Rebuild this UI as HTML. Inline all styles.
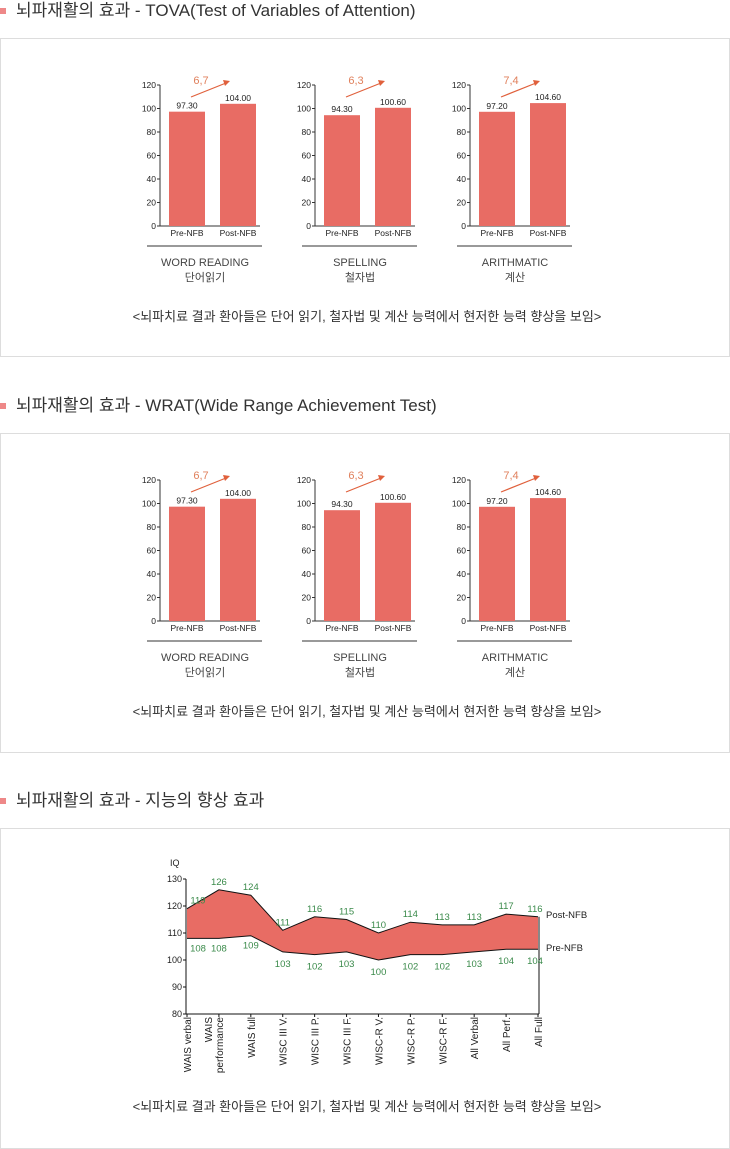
<!DOCTYPE html>
<html><head><meta charset="utf-8">
<style>
body{margin:0;width:730px;height:1149px;background:#fff;font-family:"Liberation Sans","Noto Sans CJK KR",sans-serif;position:relative;overflow:hidden}
.h{position:absolute;left:16px;font-size:17px;color:#333;line-height:20px}
.b{position:absolute;left:0;width:6px;height:6px;background:#e88}
.box{position:absolute;left:0;width:728px;border:1px solid #ddd}
svg{position:absolute;left:0;top:0}
</style></head><body>
<div class="b" style="top:8px"></div>
<div class="h" style="top:1px">뇌파재활의 효과 - TOVA(Test of Variables of Attention)</div>
<div class="box" style="top:38px;height:317px"></div>
<div class="b" style="top:403px"></div>
<div class="h" style="top:396px">뇌파재활의 효과 - WRAT(Wide Range Achievement Test)</div>
<div class="box" style="top:433px;height:318px"></div>
<div class="b" style="top:798px"></div>
<div class="h" style="top:791px">뇌파재활의 효과 - 지능의 향상 효과</div>
<div class="box" style="top:828px;height:319px"></div>
<svg id="s" width="730" height="1149"></svg>
<script>
const barGroups=["WORD READING","SPELLING","ARITHMATIC"];
const barGroupsKo=["단어읽기","철자법","계산"];
const preValues=[97.3,94.3,97.2];
const postValues=[104.0,100.6,104.6];
const diffLabels=["6,7","6,3","7,4"];
const barTicks=[0,20,40,60,80,100,120];
const iqCats=["WAIS verbal","WAIS\nperformance","WAIS full","WISC III V.","WISC III P.","WISC III F.","WISC-R V.","WISC-R P.","WISC-R F.","All Verbal","All Perf.","All Full"];
const iqPost=[119,126,124,111,116,115,110,114,113,113,117,116];
const iqPre=[108,108,109,103,102,103,100,102,102,103,104,104];
const iqTicks=[80,90,100,110,120,130];
const caption="<뇌파치료 결과 환아들은 단어 읽기, 철자법 및 계산 능력에서 현저한 능력 향상을 보임>";
const S=document.getElementById('s');const NS="http://www.w3.org/2000/svg";
function mk(t,a,txt){const e=document.createElementNS(NS,t);for(const k in a)e.setAttribute(k,a[k]);if(txt!==undefined)e.textContent=txt;S.appendChild(e);return e;}
const BC="#e86c64";
function barChart(top,pfx){
 const y0=top+188,h=141;const y=v=>y0-v/120*h;
 for(let g=0;g<3;g++){
  const ax=160+g*155;
  let e=mk('line',{x1:ax,y1:y(120),x2:ax,y2:y0,stroke:'#333'});
  
  e=mk('line',{x1:ax,y1:y0,x2:ax+100,y2:y0,stroke:'#333'});
  
  barTicks.forEach(t=>{mk('line',{x1:ax-3,y1:y(t),x2:ax,y2:y(t),stroke:'#333'});
   e=mk('text',{x:ax-4,y:y(t)+3,'font-size':8.5,'text-anchor':'end',fill:'#222'},t);
   });
  const vals=[preValues[g],postValues[g]],labs=["Pre-NFB","Post-NFB"];
  vals.forEach((v,i)=>{const bx=ax+9+i*51;
   e=mk('rect',{x:bx,y:y(v),width:36,height:y0-y(v),fill:BC});
   
   e=mk('text',{x:bx+18,y:y(v)-3,'font-size':8.5,'text-anchor':'middle',fill:'#222'},v.toFixed(2));
   
   e=mk('text',{x:bx+18,y:y0+10,'font-size':8.5,'text-anchor':'middle',fill:'#222'},labs[i]);
   });
  e=mk('line',{x1:ax+31,y1:top+59,x2:ax+66,y2:top+45,stroke:'#e0603c','stroke-width':1.2});
  
  mk('polygon',{points:`${ax+70},${top+43} ${ax+63},${top+42} ${ax+65},${top+48}`,fill:'#e0603c'});
  e=mk('text',{x:ax+41,y:top+46,'font-size':11,'text-anchor':'middle',fill:'#e0805c'},diffLabels[g]);
  
  mk('line',{x1:ax-13,y1:top+208,x2:ax+102,y2:top+208,stroke:'#333'});
  e=mk('text',{x:ax+45,y:top+228,'font-size':11,'text-anchor':'middle',fill:'#444'},barGroups[g]);
  
  e=mk('text',{x:ax+45,y:top+243,'font-size':11,'text-anchor':'middle',fill:'#444'},barGroupsKo[g]);
  
 }
 const c=mk('text',{x:367,y:top+283,'font-size':13,'text-anchor':'middle',fill:'#333'},caption);
 
}
barChart(38,'tova-');barChart(433,'wrat-');
const lx=i=>187+i*(351/11);const ly=v=>1014-(v-80)*2.7;
let pts=iqPost.map((v,i)=>lx(i)+','+ly(v)).join(' ')+' '+iqPre.map((v,i)=>lx(i)+','+ly(v)).reverse().join(' ');
let e=mk('polygon',{points:pts,fill:BC});

e=mk('polyline',{points:iqPost.map((v,i)=>lx(i)+','+ly(v)).join(' '),fill:'none',stroke:'#111'});

e=mk('polyline',{points:iqPre.map((v,i)=>lx(i)+','+ly(v)).join(' '),fill:'none',stroke:'#111'});

mk('line',{x1:186,y1:ly(130),x2:186,y2:ly(80),stroke:'#111'});
mk('line',{x1:186,y1:ly(80),x2:539,y2:ly(80),stroke:'#111'});
mk('line',{x1:539,y1:ly(iqPost[11]),x2:539,y2:ly(80),stroke:'#111'});
e=mk('text',{x:170,y:866,'font-size':9,fill:'#222'},'IQ');

iqTicks.forEach(t=>{mk('line',{x1:183,y1:ly(t),x2:186,y2:ly(t),stroke:'#111'});
 e=mk('text',{x:182,y:ly(t)+3,'font-size':9,'text-anchor':'end',fill:'#222'},t);
 });
iqCats.forEach((c,i)=>{const x=lx(i);mk('line',{x1:x,y1:ly(80),x2:x,y2:ly(80)+3,stroke:'#111'});
 const parts=c.split('\n');
 parts.forEach((p,j)=>{const xx=x+4-(parts.length-1-j)*11;
  e=mk('text',{x:xx,y:1017,'font-size':10,'text-anchor':'end',fill:'#222',transform:`rotate(-90 ${xx} 1017)`},p);
  });
 e=mk('text',{x:x+(i==0?11:i==11?-3:0),y:ly(iqPost[i])-5,'font-size':9.5,'text-anchor':'middle',fill:'#3a8a4a'},iqPost[i]);
 
 e=mk('text',{x:x+(i==0?11:i==11?-3:0),y:ly(iqPre[i])+(i<3?13:15),'font-size':9.5,'text-anchor':'middle',fill:'#3a8a4a'},iqPre[i]);
 });
e=mk('text',{x:546,y:918,'font-size':9.5,fill:'#222'},'Post-NFB');

e=mk('text',{x:546,y:951,'font-size':9.5,fill:'#222'},'Pre-NFB');

e=mk('text',{x:367,y:1111,'font-size':13,'text-anchor':'middle',fill:'#333'},caption);

</script>
</body></html>
